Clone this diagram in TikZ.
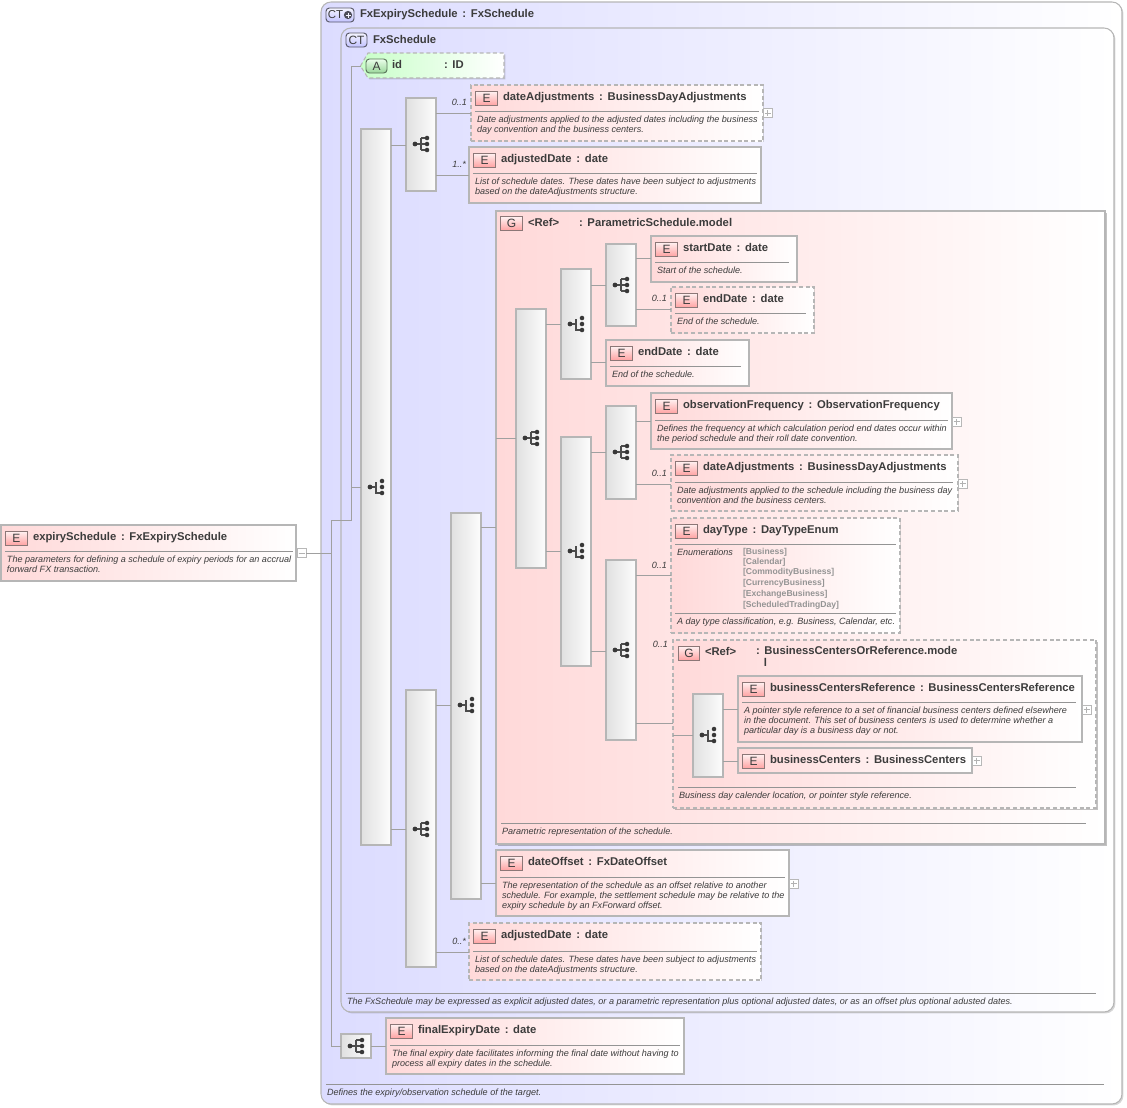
\documentclass[tikz,border=0pt]{standalone}
\usepackage{fontspec}
\setmainfont{Liberation Sans}
\usetikzlibrary{shadows}
\definecolor{edgeC}{HTML}{B6B6B6}
\definecolor{lineC}{HTML}{A0A0A0}
\definecolor{sepC}{HTML}{949494}
\definecolor{txtC}{HTML}{3C3C3C}
\definecolor{pinkL}{HTML}{FFD9D9}
\definecolor{lavL}{HTML}{DCDCFF}
\definecolor{greenL}{HTML}{C8FFC8}
\tikzset{
  softshadow/.style={drop shadow={shadow xshift=1.1pt,shadow yshift=-1.1pt,fill=black,opacity=0.16}},
  grpshadow/.style={drop shadow={shadow xshift=1.6pt,shadow yshift=-1.6pt,fill=black,opacity=0.24}},
  boxbase/.style={shape=rectangle,inner sep=0pt,outer sep=0pt,draw=edgeC,line width=0.8pt},
  elemsolid/.style={boxbase,softshadow,left color=pinkL,right color=white},
  elemdash/.style={boxbase,softshadow,left color=pinkL,right color=white,densely dashed},
  ctbox/.style={boxbase,softshadow,left color=lavL,right color=white,rounded corners=7.5pt},
  grpbox/.style={boxbase,grpshadow,left color=pinkL,right color=white},
  grpdash/.style={boxbase,grpshadow,left color=pinkL,right color=white,densely dashed},
  seqshape/.style={boxbase,softshadow,left color=black!12,right color=black!1},
  conn/.style={draw=lineC,line width=0.7pt},
  sepline/.style={draw=sepC,line width=0.7pt},
  titletxt/.style={inner sep=0pt,outer sep=0pt,anchor=base west,text=txtC,font=\fontsize{8.45}{10}\selectfont\bfseries},
  desctxt/.style={inner sep=0pt,outer sep=0pt,anchor=north west,align=left,text=txtC,font=\fontsize{6.8}{7.5}\selectfont\itshape},
  multtxt/.style={inner sep=0pt,outer sep=0pt,anchor=east,text=txtC,font=\fontsize{6.8}{7.5}\selectfont\itshape},
  enumtxt/.style={inner sep=0pt,outer sep=0pt,anchor=west,text=black!42,font=\fontsize{6.45}{7.5}\selectfont\bfseries},
  ebadge/.style={shape=rectangle,inner sep=0pt,outer sep=0pt,draw=black!45!pinkL,line width=0.7pt,top color=red!5,bottom color=red!36,text=txtC,font=\fontsize{9}{10}\selectfont},
  cbadge/.style={shape=rectangle,rounded corners=2.5pt,inner sep=0pt,outer sep=0pt,draw=black!60!lavL,line width=0.7pt,top color=blue!4,bottom color=blue!24,text=txtC,font=\fontsize{9}{10}\selectfont},
  abadge/.style={shape=rectangle,rounded corners=2.5pt,inner sep=0pt,outer sep=0pt,draw=black!55!greenL,line width=0.7pt,top color=green!8,bottom color=green!60!black!40,text=txtC,font=\fontsize{9}{10}\selectfont},
  pmbox/.style={shape=rectangle,inner sep=0pt,outer sep=0pt,draw=black!28,line width=0.5pt,fill=white,minimum width=6.6pt,minimum height=6.6pt},
  dotS/.style={fill=black!78,draw=none},
  icoline/.style={draw=black!70,line width=0.8pt},
}
% generic sized node
\newcommand\szbox[6]{\node[#6,minimum width={(#4-#2)*0.75pt},minimum height={(#5-#3)*0.75pt}] (#1) at ({(#2+#4)/2},{(#3+#5)/2}) {};}
% element head: name x1 y1 x2 y2 style title
\newcommand\elemhead[7]{%
  \szbox{#1}{#2}{#3}{#4}{#5}{#6}
  \node[ebadge,minimum width=16pt,minimum height=10.5pt] (#1-badge) at ({#2+15.5},{#3+13}) {E};
  \node[titletxt] (#1-title) at ({#2+32},{#3+15}) {#7};
}
% description: name x1 x2 sepY text
\newcommand\elemdesc[5]{%
  \draw[sepline] ({#2+4},#4) -- (#3,#4);
  \node[desctxt] (#1-desc) at ({#2+6},{#4+2.9}) {\rule{0pt}{6.5pt}#5};
}
\newcommand\ttl[2]{#1\hspace{0.42em}:\hspace{0.42em}#2}
% icons
\newcommand\seqicon[2]{%
  \draw[icoline] ({#1-6},#2) -- ({#1+6},#2) ({#1},{#2-6}) -- ({#1},{#2+6}) ({#1},{#2-6}) -- ({#1+6},{#2-6}) ({#1},{#2+6}) -- ({#1+6},{#2+6});
  \fill[dotS] ({#1-6},#2) circle (1.8pt) ({#1+6},{#2-6}) circle (1.7pt) ({#1+6},#2) circle (1.7pt) ({#1+6},{#2+6}) circle (1.7pt);
}
\newcommand\choiceicon[2]{%
  \draw[icoline] ({#1-6},#2) -- ({#1},#2) ({#1},{#2-5}) -- ({#1},{#2+6}) -- ({#1+6},{#2+6});
  \fill[dotS] ({#1-6},#2) circle (1.8pt) ({#1+6},{#2-6}) circle (1.7pt) ({#1+6},#2) circle (1.7pt) ({#1+6},{#2+6}) circle (1.7pt);
}
% plus / minus
\newcommand\plusbox[3]{%
  \node[pmbox] (#1) at (#2,#3) {};
  \draw[draw=black!30,line width=0.4pt] ({#2-3},#3) -- ({#2+3},#3) (#2,{#3-3}) -- (#2,{#3+3});
}
\newcommand\conn[3]{\draw[conn] (#1.east |- 0,#3) -- (#2.west |- 0,#3);}
\newcommand\mult[4]{\node[multtxt] (#1) at (#2,#3) {#4};}
\begin{document}
\begin{tikzpicture}[x=0.75pt,y=-0.75pt]
\useasboundingbox (0,0) rectangle (1127,1107);

%% containers
\szbox{outer}{321}{2}{1122}{1104}{ctbox}
\szbox{inner}{341}{28}{1114}{1012}{ctbox}

%% outer head
\node[cbadge,minimum width=21pt,minimum height=10.5pt] (outer-badge) at (340,15) {};
\node[inner sep=0pt,text=txtC,font=\fontsize{8.6}{10}\selectfont] (outer-ct) at (335.5,15) {CT};
\fill[black!65!lavL] (348,15) circle (3.1pt);
\draw[white!70!lavL,line width=0.6pt] (345.5,15) -- (350.5,15) (348,12.5) -- (348,17.5);
\node[titletxt] (outer-title) at (360,17.5) {\ttl{FxExpirySchedule}{FxSchedule}};
\draw[sepline] (326,1084) -- (1104,1084);
\node[desctxt] (outer-desc) at (327,1086.9) {\rule{0pt}{6.5pt}Defines the expiry/observation schedule of the target.};

%% inner head
\node[cbadge,minimum width=15.75pt,minimum height=10.5pt] (inner-badge) at (356.5,40) {CT};
\node[titletxt] (inner-title) at (373,43) {FxSchedule};
\draw[sepline] (346,993) -- (1096,993);
\node[desctxt] (inner-desc) at (347,995.9) {\rule{0pt}{6.5pt}The FxSchedule may be expressed as explicit adjusted dates, or a parametric representation plus optional adjusted dates, or as an offset plus optional adusted dates.};

%% root element
\elemhead{root}{1}{525}{296}{581}{elemsolid}{\ttl{expirySchedule}{FxExpirySchedule}}
\elemdesc{root}{1}{293}{551}{The parameters for defining a schedule of expiry periods for an accrual\\forward FX transaction.}
\node[pmbox] (rootminus) at (301.5,553) {};
\draw[draw=black!30,line width=0.4pt] (298.5,553) -- (304.5,553);

%% id attribute
\coordinate (idtip) at (360.5,66);
\draw[draw=edgeC,line width=0.8pt,densely dashed,left color=greenL,right color=white,softshadow]
  (idtip) -- (368,53) -- (504,53) -- (504,78) -- (368,78) -- cycle;
\node[abadge,minimum width=15.75pt,minimum height=10.5pt] (id-badge) at (376.5,66) {A};
\node[titletxt] (id-title) at (392,68) {id};
\node[titletxt] (id-type) at (444,68) {:\hspace{0.42em}ID};

%% sequence / choice bars
\szbox{S1}{361}{129}{391}{845}{seqshape}  \choiceicon{376}{487}
\szbox{S2}{406}{98}{436}{191}{seqshape}   \seqicon{421}{144}
\szbox{S3}{406}{690}{436}{967}{seqshape}  \seqicon{421}{829}
\szbox{S4}{451}{513}{481}{899}{seqshape}  \choiceicon{466}{705}

%% first pair of elements
\elemhead{da1}{471}{85}{763}{141}{elemdash}{\ttl{dateAdjustments}{BusinessDayAdjustments}}
\elemdesc{da1}{471}{759}{111}{Date adjustments applied to the adjusted dates including the business\\day convention and the business centers.}
\plusbox{da1p}{767.5}{113}
\mult{m1}{467}{102}{0..1}
\elemhead{ad1}{469}{147}{761}{203}{elemsolid}{\ttl{adjustedDate}{date}}
\elemdesc{ad1}{469}{757}{173}{List of schedule dates. These dates have been subject to adjustments\\based on the dateAdjustments structure.}
\mult{m2}{466}{164}{1..*}

%% group ParametricSchedule.model
\szbox{G1}{496}{211}{1105}{844}{grpbox}
\node[ebadge,minimum width=16pt,minimum height=10.5pt] (G1-badge) at (511.5,223.5) {G};
\node[titletxt] (G1-ref) at (528,226) {<Ref>};
\node[titletxt] (G1-title) at (579,226) {:\hspace{0.42em}ParametricSchedule.model};
\draw[sepline] (501,823) -- (1086,823);
\node[desctxt] (G1-desc) at (502,825.9) {\rule{0pt}{6.5pt}Parametric representation of the schedule.};

\szbox{S5}{516}{309}{546}{568}{seqshape}  \seqicon{531}{438}
\szbox{S6}{561}{269}{591}{379}{seqshape}  \choiceicon{576}{324}
\szbox{S7}{561}{437}{591}{666}{seqshape}  \choiceicon{576}{551}
\szbox{S8}{606}{244}{636}{326}{seqshape}  \seqicon{621}{285}
\szbox{S9}{606}{406}{636}{499}{seqshape}  \seqicon{621}{452}
\szbox{S10}{606}{560}{636}{740}{seqshape} \seqicon{621}{650}

\elemhead{sd}{651}{236}{797}{282}{elemsolid}{\ttl{startDate}{date}}
\elemdesc{sd}{651}{789}{262}{Start of the schedule.}
\elemhead{ed1}{671}{287}{814}{333}{elemdash}{\ttl{endDate}{date}}
\elemdesc{ed1}{671}{806}{313}{End of the schedule.}
\mult{m3}{667}{298}{0..1}
\elemhead{ed2}{606}{340}{749}{386}{elemsolid}{\ttl{endDate}{date}}
\elemdesc{ed2}{606}{741}{366}{End of the schedule.}
\elemhead{of}{651}{393}{952}{449}{elemsolid}{\ttl{observationFrequency}{ObservationFrequency}}
\elemdesc{of}{651}{948}{420}{Defines the frequency at which calculation period end dates occur within\\the period schedule and their roll date convention.}
\plusbox{ofp}{956.5}{421.5}
\elemhead{da2}{671}{455}{958}{511}{elemdash}{\ttl{dateAdjustments}{BusinessDayAdjustments}}
\elemdesc{da2}{671}{953}{482}{Date adjustments applied to the schedule including the business day\\convention and the business centers.}
\plusbox{da2p}{962.5}{483.5}
\mult{m4}{667}{473}{0..1}

%% dayType
\elemhead{dt}{671}{518}{900}{633}{elemdash}{\ttl{dayType}{DayTypeEnum}}
\draw[sepline] (675,544) -- (896,544);
\node[desctxt,anchor=west] (dt-enumlabel) at (677,552) {Enumerations};
\node[enumtxt] (dt-e1) at (743,552) {[Business]};
\node[enumtxt] (dt-e2) at (743,562) {[Calendar]};
\node[enumtxt] (dt-e3) at (743,572.5) {[CommodityBusiness]};
\node[enumtxt] (dt-e4) at (743,583.5) {[CurrencyBusiness]};
\node[enumtxt] (dt-e5) at (743,594.5) {[ExchangeBusiness]};
\node[enumtxt] (dt-e6) at (743,605.5) {[ScheduledTradingDay]};
\elemdesc{dt}{671}{896}{613}{A day type classification, e.g. Business, Calendar, etc.}
\mult{m5}{667}{565}{0..1}

%% group BusinessCentersOrReference
\szbox{G2}{673}{640}{1096}{808}{grpdash}
\node[ebadge,minimum width=16pt,minimum height=10.5pt] (G2-badge) at (689,653) {G};
\node[titletxt] (G2-ref) at (705,655.5) {<Ref>};
\node[titletxt,align=left,anchor=north west,font=\fontsize{8.45}{9.2}\selectfont\bfseries] (G2-title) at (756,646.5) {:\hspace{0.42em}BusinessCentersOrReference.mode\\\hspace{0.7em}l};
\draw[sepline] (678,787) -- (1076,787);
\node[desctxt] (G2-desc) at (679,789.9) {\rule{0pt}{6.5pt}Business day calender location, or pointer style reference.};
\mult{m6}{668}{644}{0..1}
\szbox{S11}{693}{694}{723}{777}{seqshape}  \choiceicon{708}{735}
\elemhead{bcr}{738}{676}{1082}{742}{elemsolid}{\ttl{businessCentersReference}{BusinessCentersReference}}
\elemdesc{bcr}{738}{1076}{702}{A pointer style reference to a set of financial business centers defined elsewhere\\in the document. This set of business centers is used to determine whether a\\particular day is a business day or not.}
\plusbox{bcrp}{1086.5}{709.5}
\elemhead{bc}{738}{748}{972}{773}{elemsolid}{\ttl{businessCenters}{BusinessCenters}}
\plusbox{bcp}{976.5}{760.5}

%% dateOffset, adjustedDate 2
\elemhead{dof}{496}{850}{789}{916}{elemsolid}{\ttl{dateOffset}{FxDateOffset}}
\elemdesc{dof}{496}{785}{877}{The representation of the schedule as an offset relative to another\\schedule. For example, the settlement schedule may be relative to the\\expiry schedule by an FxForward offset.}
\plusbox{dofp}{793.5}{883.5}
\elemhead{ad2}{469}{923}{761}{980}{elemdash}{\ttl{adjustedDate}{date}}
\elemdesc{ad2}{469}{757}{951}{List of schedule dates. These dates have been subject to adjustments\\based on the dateAdjustments structure.}
\mult{m7}{466}{941}{0..*}

%% finalExpiryDate
\szbox{S12}{341}{1034}{371}{1058}{seqshape}  \seqicon{356}{1046}
\elemhead{fe}{386}{1018}{684}{1074}{elemsolid}{\ttl{finalExpiryDate}{date}}
\elemdesc{fe}{386}{680}{1045}{The final expiry date facilitates informing the final date without having to\\process all expiry dates in the schedule.}

%% connectors
\coordinate (j1) at (331,553);
\coordinate (j2) at (331,520);
\coordinate (j3) at (351,520);
\coordinate (j4) at (351,66);
\draw[conn] (rootminus.east) -- (j1);
\draw[conn] (j2) -- (j3) -- (j4) -- (idtip);
\draw[conn] (j2) -- (S12.west -| j2) -- (S12.west);
\draw[conn] (j3 |- S1.west) -- (S1.west);
\conn{S1}{S2}{145}
\conn{S1}{S3}{829}
\conn{S2}{da1}{113}
\conn{S2}{ad1}{175}
\conn{S3}{S4}{705}
\conn{S3}{ad2}{952}
\conn{S4}{G1}{527}
\conn{S4}{dof}{883}
\draw[conn] (G1.west |- S5.west) -- (S5.west);
\conn{S5}{S6}{324}
\conn{S5}{S7}{551}
\conn{S6}{S8}{285}
\conn{S6}{ed2}{362}
\conn{S8}{sd}{258}
\conn{S8}{ed1}{309}
\conn{S7}{S9}{452}
\conn{S7}{S10}{651}
\conn{S9}{of}{421}
\conn{S9}{da2}{484}
\conn{S10}{dt}{575}
\conn{S10}{G2}{723}
\draw[conn] (G2.west |- S11.west) -- (S11.west);
\conn{S11}{bcr}{709}
\conn{S11}{bc}{761}
\conn{S12}{fe}{1046}
\end{tikzpicture}
\end{document}
